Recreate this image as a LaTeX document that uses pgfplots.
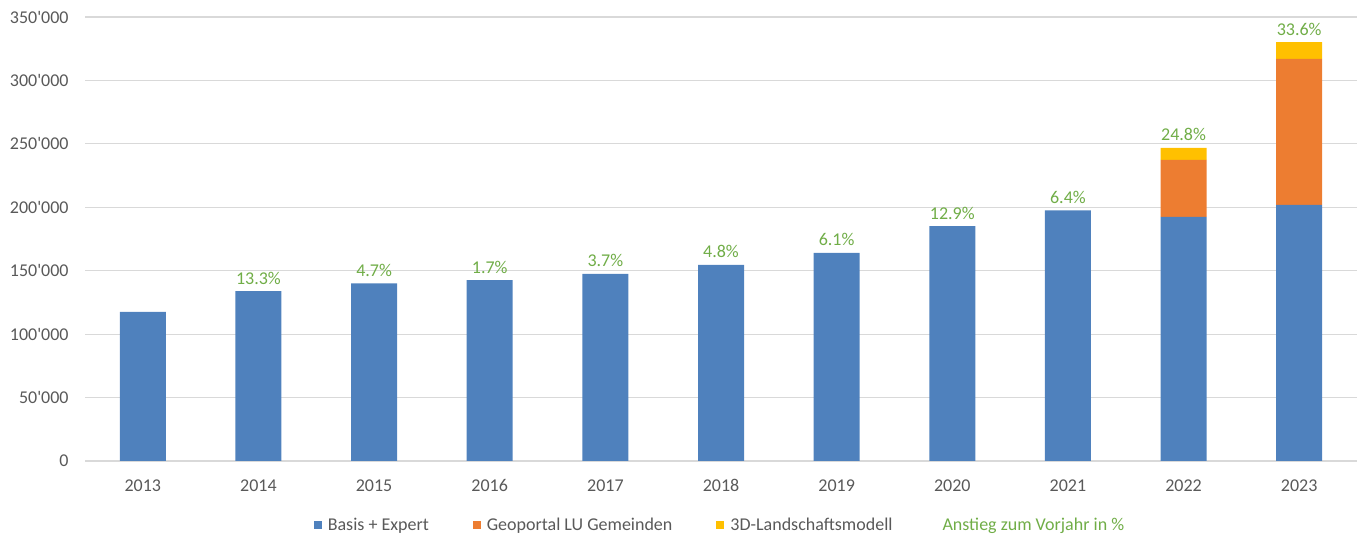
\documentclass[border=0pt]{standalone}
\usepackage{pgfplots}
\pgfplotsset{compat=1.18}
\usepackage{fontspec}
\setmainfont{Carlito}
\definecolor{cblue}{HTML}{4F81BD}
\definecolor{corange}{HTML}{ED7D31}
\definecolor{cyellow}{HTML}{FFC000}
\definecolor{cgreen}{HTML}{70AD47}
\definecolor{cgrid}{HTML}{D9D9D9}
\definecolor{ctext}{HTML}{595959}
\begin{document}
\fontsize{9}{11}\selectfont
\begin{tikzpicture}
\begin{axis}[
  name=ax,
  at={(0,0)}, anchor=south west,
  scale only axis,
  width=636pt, height=222pt,
  ybar stacked,
  bar width=23pt,
  xmin=-0.5, xmax=10.5,
  ymin=0, ymax=350000,
  xtick={0,...,10},
  xticklabels={2013,2014,2015,2016,2017,2018,2019,2020,2021,2022,2023},
  ytick={0,50000,...,350000},
  scaled y ticks=false,
  /pgf/number format/.cd, fixed, 1000 sep={\textquotesingle}, assume math mode=true,
  /pgfplots/.cd,
  axis line style={draw=none},
  tick style={draw=none},
  ymajorgrids,
  major grid style={cgrid, line width=0.6pt},
  tick label style={font=\fontsize{9}{11}\selectfont, text=ctext},
  yticklabel style={xshift=-5pt},
  xticklabel style={yshift=-6pt},
  legend style={
    at={(0.5,-0.145)}, anchor=center,
    draw=none, fill=none,
    legend columns=4,
    font=\fontsize{9}{11}\selectfont,
    text=ctext,
    /tikz/every even column/.append style={column sep=20pt},
    /tikz/every odd column/.append style={column sep=1pt},
  },
  legend image code/.code={\fill[#1] (0pt,-2pt) rectangle (4pt,2pt);},
]
\addplot[fill=cblue, draw=none] coordinates {
  (0,117600) (1,134000) (2,140000) (3,142500) (4,147500) (5,154500)
  (6,164100) (7,185200) (8,197500) (9,192500) (10,201800)};
\addlegendentry{Basis + Expert}
\addplot[fill=corange, draw=none] coordinates {
  (0,0) (1,0) (2,0) (3,0) (4,0) (5,0) (6,0) (7,0) (8,0) (9,44800) (10,115100)};
\addlegendentry{Geoportal LU Gemeinden}
\addplot[fill=cyellow, draw=none] coordinates {
  (0,0) (1,0) (2,0) (3,0) (4,0) (5,0) (6,0) (7,0) (8,0) (9,9500) (10,13200)};
\addlegendentry{3D-Landschaftsmodell}
\addlegendimage{empty legend}
\addlegendentry{\textcolor{cgreen}{Anstieg zum Vorjahr in \%}}
\end{axis}
\begin{axis}[
  at={(0,0)}, anchor=south west,
  scale only axis,
  width=636pt, height=222pt,
  xmin=-0.5, xmax=10.5,
  ymin=0, ymax=350000,
  hide axis,
  clip=false,
  every node near coord/.append style={font=\fontsize{9}{11}\selectfont, text=cgreen, anchor=base, yshift=3.5pt},
]
\addplot[draw=none, mark=none, nodes near coords, point meta=explicit symbolic] coordinates {
  (1,134000) [13.3\%] (2,140000) [4.7\%] (3,142500) [1.7\%] (4,147500) [3.7\%] (5,154500) [4.8\%]
  (6,164100) [6.1\%] (7,185200) [12.9\%] (8,197500) [6.4\%] (9,246800) [24.8\%] (10,330100) [33.6\%]};
\end{axis}
\pgfresetboundingbox
\path ([xshift=-42.5pt,yshift=-41.5pt]ax.south west) rectangle ([xshift=5.5pt,yshift=8.5pt]ax.north east);
\end{tikzpicture}
\end{document}
